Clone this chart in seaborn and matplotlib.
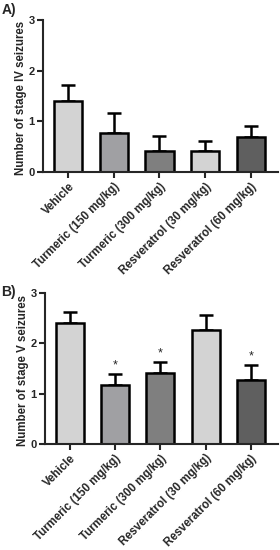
import numpy as np
import pandas as pd
import seaborn as sns
import matplotlib.pyplot as plt

groups = ["Vehicle", "Turmeric (150 mg/kg)", "Turmeric (300 mg/kg)",
          "Resveratrol (30 mg/kg)", "Resveratrol (60 mg/kg)"]
bar_colors = ["#d3d3d3", "#a0a0a3", "#7f7f7f", "#d3d3d3", "#5f5f5f"]

stage4_mean = [1.41, 0.78, 0.41, 0.41, 0.70]
stage4_sem = [0.31, 0.39, 0.31, 0.21, 0.20]

stage5_mean = [2.40, 1.18, 1.41, 2.26, 1.27]
stage5_sem = [0.23, 0.22, 0.22, 0.31, 0.30]
stage5_sig = ["", "*", "*", "", "*"]

sns.set_theme(style="ticks")
plt.rcParams["font.family"] = ["Liberation Sans", "DejaVu Sans"]
plt.rcParams["font.weight"] = "bold"

fig = plt.figure(figsize=(2.8, 5.5), dpi=100)
ax_a = fig.add_axes([0.154, 0.687, 0.839, 0.277])
ax_b = fig.add_axes([0.160, 0.193, 0.833, 0.274])


def draw_panel(ax, means, sems, ylabel, sig=None):
    df = pd.DataFrame({"group": groups, "value": means})
    sns.barplot(data=df, x="group", y="value", hue="group", palette=bar_colors,
                legend=False, errorbar=None, width=0.62, edgecolor="black",
                linewidth=1.8, ax=ax, zorder=2)
    x = np.arange(len(groups))
    ax.errorbar(x, means, yerr=[np.zeros(len(sems)), sems], fmt="none",
                ecolor="black", elinewidth=1.8, capsize=5, capthick=1.8, zorder=1)
    if sig is not None:
        for xi, m, s, lab in zip(x, means, sems, sig):
            if lab:
                ax.text(xi, m + s + 0.05, lab, ha="center", va="bottom",
                        fontsize=9, fontweight="normal")
    ax.set_ylim(0, 3)
    ax.set_xlim(-0.55, 4.6)
    ax.set_yticks([0, 1, 2, 3])
    ax.set_xlabel("")
    ax.set_ylabel(ylabel, fontsize=8.3, fontweight="bold")
    ax.yaxis.set_label_coords(-0.068, 0.49)
    ax.tick_params(axis="both", width=1.5, length=4, pad=2)
    ax.tick_params(axis="y", labelsize=8)
    ax.set_xticks(x)
    ax.set_xticklabels(groups, rotation=45, ha="right", rotation_mode="anchor",
                       fontsize=8.3, fontweight="bold")
    for lab in ax.get_yticklabels():
        lab.set_fontweight("bold")
    sns.despine(ax=ax)
    for sp in ["left", "bottom"]:
        ax.spines[sp].set_linewidth(1.5)


draw_panel(ax_a, stage4_mean, stage4_sem, "Number of stage IV seizures")
draw_panel(ax_b, stage5_mean, stage5_sem, "Number of stage V seizures", stage5_sig)

fig.text(0.005, 0.995, "A)", fontsize=10, fontweight="bold", va="top")
fig.text(0.005, 0.482, "B)", fontsize=10, fontweight="bold", va="top")

fig.savefig("out.png", dpi=100)
